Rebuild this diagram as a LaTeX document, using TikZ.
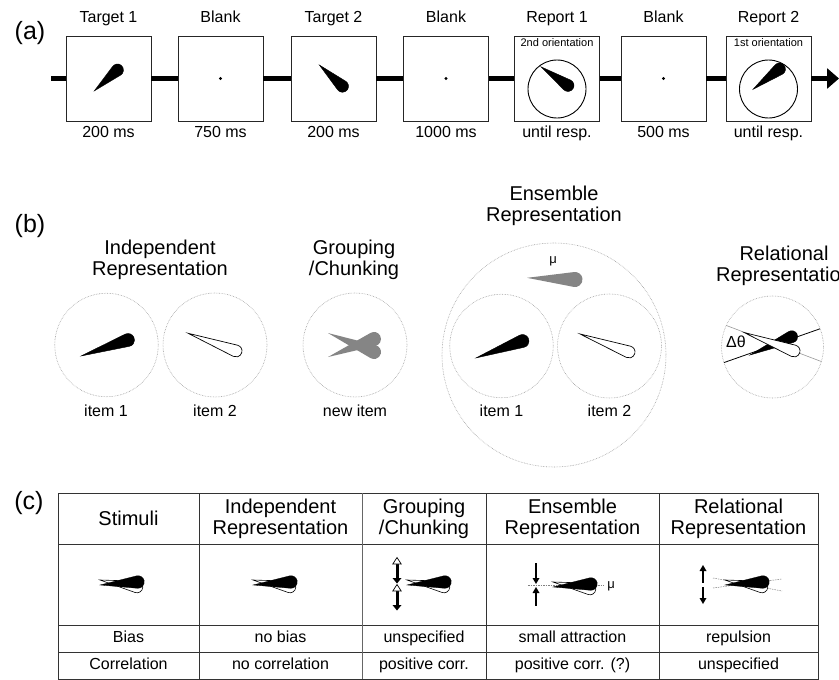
\documentclass[tikz,border=0pt]{standalone}
\usepackage{fontspec}
\setmainfont{Liberation Sans}
\usetikzlibrary{arrows.meta}
\newcommand\ndl[5][]{%
 \pgfmathsetmacro\ndlal{acos(#5/#4)}%
 \begin{scope}[shift={#2},rotate=#3]
 \filldraw[#1] (-#4,0) -- ({180-\ndlal}:#5) arc[start angle={180-\ndlal},end angle={\ndlal-180},radius=#5] -- cycle;
 \end{scope}}
\newcommand\icn[2]{%
 \ndl[fill=white,draw=black,line width=0.6pt]{({#1+37},{#2-4})}{-10.7}{37.7}{5.8}%
 \ndl[fill=black,draw=black,line width=0.3pt]{({#1+38},{#2+1})}{4.5}{38}{6.3}}
\tikzset{
 tbox/.style={draw=black!85,line width=0.9pt,fill=white,minimum width=85pt,minimum height=85pt,inner sep=0pt},
 tlbl/.style={font=\fontsize{16}{17}\selectfont,inner sep=0pt,text height=11.6pt,text depth=3.4pt},
 tsmall/.style={font=\fontsize{11}{12}\selectfont,inner sep=0pt,text height=8pt,text depth=2.3pt},
 ttitle/.style={font=\fontsize{20}{21}\selectfont,align=center,inner sep=1pt},
 tpanel/.style={font=\fontsize{25}{27}\selectfont,inner sep=0pt},
 tring/.style={circle,draw=gray!75,line width=0.6pt,densely dotted,inner sep=0pt},
 tline/.style={line width=5pt,draw=black},
 tabline/.style={draw=black!80,line width=1pt},
 rdial/.style={circle,draw=black,line width=0.9pt,minimum size=58pt,inner sep=0pt},
}
\begin{document}
\begin{tikzpicture}[x=1pt,y=1pt]
\useasboundingbox[fill=white] (0,0) rectangle (839,-680);
% ---------------- panel (a)
\node[tpanel] (pa) at (30,-33) {(a)};
\node[tbox] (b1) at (108.5,-78.5) {};
\node[tbox] (b2) at (220.5,-78.5) {};
\node[tbox] (b3) at (333.5,-78.5) {};
\node[tbox] (b4) at (446,-78.5) {};
\node[tbox] (b5) at (557,-78.5) {};
\node[tbox] (b6) at (663.5,-78.5) {};
\node[tbox] (b7) at (768.5,-78.5) {};
\coordinate (t0) at (51,-78.5);
\coordinate (tend) at (839,-78.5);
\draw[tline] (t0) -- (b1.west);
\draw[tline] (b1.east) -- (b2.west);
\draw[tline] (b2.east) -- (b3.west);
\draw[tline] (b3.east) -- (b4.west);
\draw[tline] (b4.east) -- (b5.west);
\draw[tline] (b5.east) -- (b6.west);
\draw[tline] (b6.east) -- (b7.west);
\draw[tline,-{Triangle[length=12pt,width=20pt]}] (b7.east) -- (tend);
\node[tlbl] (l1) at ([yshift=17]b1.north) {Target 1};
\node[tlbl] (l2) at ([yshift=17]b2.north) {Blank};
\node[tlbl] (l3) at ([yshift=17]b3.north) {Target 2};
\node[tlbl] (l4) at ([yshift=17]b4.north) {Blank};
\node[tlbl] (l5) at ([yshift=17]b5.north) {Report 1};
\node[tlbl] (l6) at ([yshift=17]b6.north) {Blank};
\node[tlbl] (l7) at ([yshift=17]b7.north) {Report 2};
\node[tlbl] (d1) at ([yshift=-12]b1.south) {200 ms};
\node[tlbl] (d2) at ([yshift=-12]b2.south) {750 ms};
\node[tlbl] (d3) at ([yshift=-12]b3.south) {200 ms};
\node[tlbl] (d4) at ([yshift=-12]b4.south) {1000 ms};
\node[tlbl] (d5) at ([yshift=-12]b5.south) {until resp.};
\node[tlbl] (d6) at ([yshift=-12]b6.south) {500 ms};
\node[tlbl] (d7) at ([yshift=-12]b7.south) {until resp.};
\node[tsmall] (s5) at ([yshift=-8]b5.north) {2nd orientation};
\node[tsmall] (s7) at ([yshift=-8]b7.north) {1st orientation};
\node[rdial] (c5) at ([yshift=-10.5]b5.center) {};
\node[rdial] (c7) at ([yshift=-10.5]b7.center) {};
\fill (b2.center) circle (1.6);
\fill (b4.center) circle (1.6);
\fill (b6.center) circle (1.6);
\ndl[fill=black]{(117.5,-70)}{42}{31.3}{6}
\ndl[fill=black]{(342.5,-86.3)}{-42.6}{31.5}{6}
\ndl[fill=black]{(568,-85.5)}{-34.6}{33}{6}
\ndl[fill=black]{(779.5,-69)}{37.5}{33.4}{6}
% ---------------- panel (b)
\node[tpanel] (pb) at (30,-226) {(b)};
\node[ttitle] (h1) at (160,-260) {Independent\\Representation};
\node[ttitle] (h2) at (354,-260) {Grouping\\/Chunking};
\node[ttitle] (h3) at (554,-206) {Ensemble\\Representation};
\node[ttitle] (h4) at (784,-266) {Relational\\Representation};
\node[tring,minimum size=103.5pt] (i1) at (106.5,-345) {};
\node[tring,minimum size=104pt] (i2) at (215,-345) {};
\node[tring,minimum size=104pt] (g1) at (355,-345) {};
\node[tring,minimum size=224pt] (en) at (554,-355) {};
\node[tring,minimum size=103.5pt] (e1) at (501.5,-346) {};
\node[tring,minimum size=104pt] (e2) at (609.5,-346) {};
\node[tring,minimum size=102pt] (r1) at (772.5,-347) {};
\node[tlbl] (n1) at (106,-412) {item 1};
\node[tlbl] (n2) at (215,-412) {item 2};
\node[tlbl] (n3) at (355,-412) {new item};
\node[tlbl] (n4) at (501.5,-412) {item 1};
\node[tlbl] (n5) at (609.5,-412) {item 2};
\node[font=\fontsize{13}{14}\selectfont,inner sep=0pt] (mu1) at (553,-261) {μ};
\ndl[fill=black]{(128,-340)}{18.8}{49.6}{6.5}
\ndl[fill=white,draw=black,line width=0.7pt]{(236,-351)}{-20.3}{51}{6}
\ndl[fill=black!48,draw=none]{(374,-352)}{-22.4}{49.7}{7}
\ndl[fill=black!48,draw=none]{(374,-339)}{21.4}{49.4}{7}
\ndl[fill=black!48,draw=none]{(575,-279.5)}{-2}{48}{7.5}
\ndl[fill=black]{(522.5,-341)}{20}{49.5}{6.5}
\ndl[fill=white,draw=black,line width=0.7pt]{(629,-352)}{-20.2}{52.2}{6}
\begin{scope}
\clip (772.5,-347) circle (51);
\draw[black,line width=0.8pt] (700,-371) -- (845,-320);
\draw[gray!80,line width=0.6pt] (700,-315.5) -- (845,-370.5);
\end{scope}
\ndl[fill=black]{(791.7,-336.7)}{23.7}{45.5}{6}
\ndl[fill=white,draw=black,line width=0.7pt]{(794,-351)}{-20.3}{53}{6}
\node[tlbl] (dt) at (736,-343) {Δθ};
% ---------------- panel (c)
\node[tpanel] (pc) at (29,-503) {(c)};
\draw[tabline] (58,-493) rectangle (818,-679);
\draw[tabline] (58,-544) -- (818,-544);
\draw[tabline] (58,-625) -- (818,-625);
\draw[tabline] (58,-652) -- (818,-652);
\draw[tabline] (199,-493) -- (199,-679);
\draw[tabline,draw=black!60] (362,-493) -- (362,-679);
\draw[tabline] (486,-493) -- (486,-679);
\draw[tabline] (659,-493) -- (659,-679);
\node[ttitle] (c1) at (128.5,-518.5) {Stimuli};
\node[ttitle] (c2) at (280.5,-518.5) {Independent\\Representation};
\node[ttitle] (c3) at (424,-518.5) {Grouping\\/Chunking};
\node[ttitle] (c4) at (572.5,-518.5) {Ensemble\\Representation};
\node[ttitle] (c5h) at (738.5,-518.5) {Relational\\Representation};
\node[tlbl] (r31) at (128.5,-638.5) {Bias};
\node[tlbl] (r32) at (280.5,-638.5) {no bias};
\node[tlbl] (r33) at (424,-638.5) {unspecified};
\node[tlbl] (r34) at (572.5,-638.5) {small attraction};
\node[tlbl] (r35) at (738.5,-638.5) {repulsion};
\node[tlbl] (r41) at (128.5,-665.5) {Correlation};
\node[tlbl] (r42) at (280.5,-665.5) {no correlation};
\node[tlbl] (r43) at (424,-665.5) {positive corr.};
\node[tlbl] (r44) at (572.5,-665.5) {positive corr. (?)};
\node[tlbl] (r45) at (738.5,-665.5) {unspecified};
% icons
\icn{100}{-583}
\icn{253}{-583}
\icn{407}{-583}
\draw[gray,line width=0.5pt,dash pattern=on 1.5pt off 1pt] (528,-585) -- (604,-585);
\icn{553}{-585}
\node[font=\fontsize{13}{14}\selectfont,inner sep=0pt] (mu2) at (611,-586) {μ};
\draw[gray,line width=0.5pt,dash pattern=on 1.5pt off 1pt] (713,-578) -- (782,-591);
\draw[gray,line width=0.5pt,dash pattern=on 1.5pt off 1pt] (713,-588) -- (782,-579);
\icn{725}{-583}
% grouping arrows
\fill (395.5,-564) rectangle (398.5,-578);
\fill (392.5,-578) -- (401.5,-578) -- (397,-583.5) -- cycle;
\filldraw[fill=white,draw=black,line width=0.7pt] (397,-557.5) -- (392.8,-564) -- (401.2,-564) -- cycle;
\fill (395.5,-591) rectangle (398.5,-605);
\fill (392.5,-605) -- (401.5,-605) -- (397,-610.5) -- cycle;
\filldraw[fill=white,draw=black,line width=0.7pt] (397,-584.5) -- (392.8,-591) -- (401.2,-591) -- cycle;
% ensemble arrows
\fill (535.1,-563) rectangle (536.9,-578);
\fill (532.5,-578) -- (539.5,-578) -- (536,-584) -- cycle;
\fill (536,-587) -- (532.5,-593) -- (539.5,-593) -- cycle;
\fill (535.1,-593) rectangle (536.9,-606);
% relational arrows
\fill (703,-565) -- (699.5,-571) -- (706.5,-571) -- cycle;
\fill (702.1,-571) rectangle (703.9,-583);
\fill (702.1,-587) rectangle (703.9,-598);
\fill (699.5,-598) -- (706.5,-598) -- (703,-604) -- cycle;
\end{tikzpicture}
\end{document}
